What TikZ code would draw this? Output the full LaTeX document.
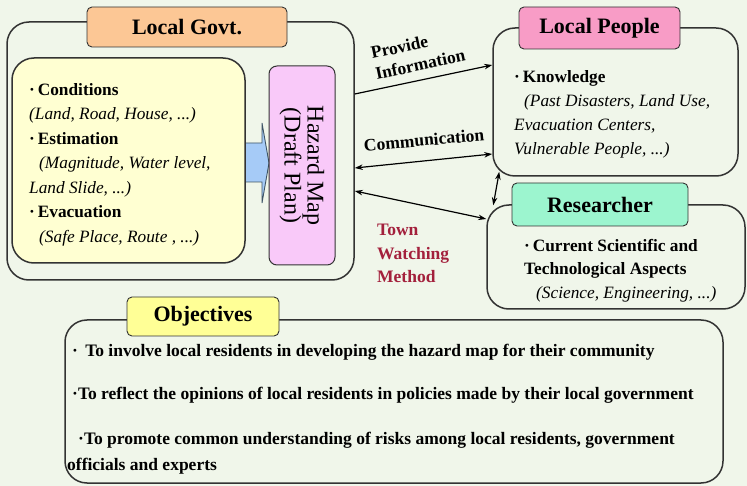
\documentclass[tikz,border=0pt]{standalone}
\usepackage{fontspec}
\setmainfont{Liberation Serif}[BoldFont={Liberation Serif Bold}, ItalicFont={Liberation Serif Italic}, BoldItalicFont={Liberation Serif Bold Italic}]
\usetikzlibrary{arrows.meta}
\definecolor{bgC}{HTML}{F0F6EA}
\definecolor{lineC}{HTML}{333333}
\definecolor{govtC}{HTML}{FCC795}
\definecolor{yelC}{HTML}{FFFFD2}
\definecolor{pinkC}{HTML}{F9C9F9}
\definecolor{arrC}{HTML}{A6CBF7}
\definecolor{arrL}{HTML}{3F5566}
\definecolor{lpC}{HTML}{F89CC6}
\definecolor{resC}{HTML}{9CF5CF}
\definecolor{objC}{HTML}{FFFF96}
\definecolor{redC}{HTML}{A3203C}
\begin{document}
\begin{tikzpicture}[x=1pt,y=-1pt,
  frame/.style={draw=lineC, line width=1.5pt, rounded corners=22pt, inner sep=0pt},
  titlebox/.style={draw=lineC, line width=0.9pt, rounded corners=5pt, inner sep=0pt,
    font=\fontsize{22}{24}\selectfont\bfseries},
  body/.style={inner sep=0pt, align=left, font=\fontsize{17.3}{24.5}\selectfont},
  objtxt/.style={inner sep=0pt, font=\fontsize{17.5}{19}\selectfont\bfseries},
  conn/.style={line width=1.2pt, -{Stealth[length=8pt,width=5.5pt]}},
  conn2/.style={line width=1.2pt, {Stealth[length=8pt,width=5.5pt]}-{Stealth[length=8pt,width=5.5pt]}},
  lbl/.style={inner sep=0pt, align=left, font=\fontsize{17.5}{19}\selectfont\bfseries}]
\fill[bgC] (0,0) rectangle (747,486);
\useasboundingbox (0,0) rectangle (747,486);

% Local Govt
\node[frame, minimum width=347pt, minimum height=258pt] (govt) at (180.5,151) {};
\node[titlebox, fill=govtC, minimum width=200pt, minimum height=40pt] (govtT) at (187,27) {Local Govt.};
\draw[draw=arrL, fill=arrC, line width=0.9pt] (236,143) -- (262,143) -- (262,123) -- (269,163) -- (262,203) -- (262,182) -- (236,182) -- cycle;
\node[frame, fill=yelC, minimum width=233pt, minimum height=205pt] (cond) at (128.5,160.5) {};
\node[draw=lineC, line width=1pt, rounded corners=8pt, fill=pinkC, minimum width=66pt, minimum height=199pt, inner sep=0pt] (hmap) at (302,165.5) {};
\node[rotate=-90, inner sep=0pt, align=center, font=\fontsize{24}{23}\selectfont] (hmapT) at (hmap.center) {Hazard Map\\(Draft Plan)};
\node[body, anchor=north west] (condT) at (29,83) {\textbf{·\,Conditions}\\
\textit{(Land, Road, House, ...)}\\
\textbf{·\,Estimation}\\
\hspace*{10pt}\textit{(Magnitude, Water level,}\\
\textit{Land Slide, ...)}\\
\textbf{·\,Evacuation}\\
\hspace*{10pt}\textit{(Safe Place, Route , ...)}};

% Local People
\node[frame, minimum width=245pt, minimum height=148pt] (lp) at (615.5,102) {};
\node[titlebox, fill=lpC, minimum width=161pt, minimum height=42pt] (lpT) at (599.5,28) {Local People};
\node[body, anchor=north west, font=\fontsize{17.3}{24}\selectfont] (lpX) at (514,70) {\textbf{·\,Knowledge}\\
\hspace*{10pt}\textit{(Past Disasters, Land Use,}\\
\textit{Evacuation Centers,}\\
\textit{Vulnerable People, ...)}};

% Researcher
\node[frame, minimum width=258pt, minimum height=104pt] (res) at (616,257) {};
\node[titlebox, fill=resC, minimum width=176pt, minimum height=43pt] (resT) at (600,204.5) {Researcher};
\node[body, anchor=north west, font=\fontsize{17.3}{23.5}\selectfont] (resX) at (524,239) {\textbf{·\,Current Scientific and}\\
\textbf{Technological Aspects}\\
\hspace*{12pt}\textit{(Science, Engineering, ...)}};

% Objectives
\node[frame, minimum width=658pt, minimum height=163pt] (obj) at (394,401.5) {};
\node[titlebox, fill=objC, minimum width=152pt, minimum height=39pt] (objT) at (203,316.5) {Objectives};
\node[objtxt, anchor=west] (o1) at (72,352) {·\, To involve local residents in developing the hazard map for their community};
\node[objtxt, anchor=west] (o2) at (72,395) {·To reflect the opinions of local residents in policies made by their local government};
\node[objtxt, anchor=west] (o3) at (78,440) {·To promote common understanding of risks among local residents, government};
\node[objtxt, anchor=west] (o4) at (67,466) {officials and experts};

% connectors
\draw[conn] ([yshift=57pt]govt.east) -- ([yshift=37pt]lp.west);
\draw[conn2] ([yshift=-17pt]govt.east) -- ([yshift=-52pt]lp.west);
\draw[conn2] ([yshift=-40pt]govt.east) -- ([yshift=38pt]res.west);
\draw[conn2] ([xshift=7pt,yshift=5pt]lp.south west) -- ([xshift=7pt,yshift=-1pt]res.north west);

% labels
\node[lbl, rotate=12, font=\fontsize{17.5}{21.5}\selectfont\bfseries] (pinfo) at (418,54) {Provide\\Information};
\node[lbl, rotate=5] (comm) at (424,140) {Communication};
\node[lbl, text=redC, anchor=north west, font=\fontsize{17.5}{23.5}\selectfont\bfseries] (town) at (377,224) {Town\\Watching\\Method};
\end{tikzpicture}
\end{document}
